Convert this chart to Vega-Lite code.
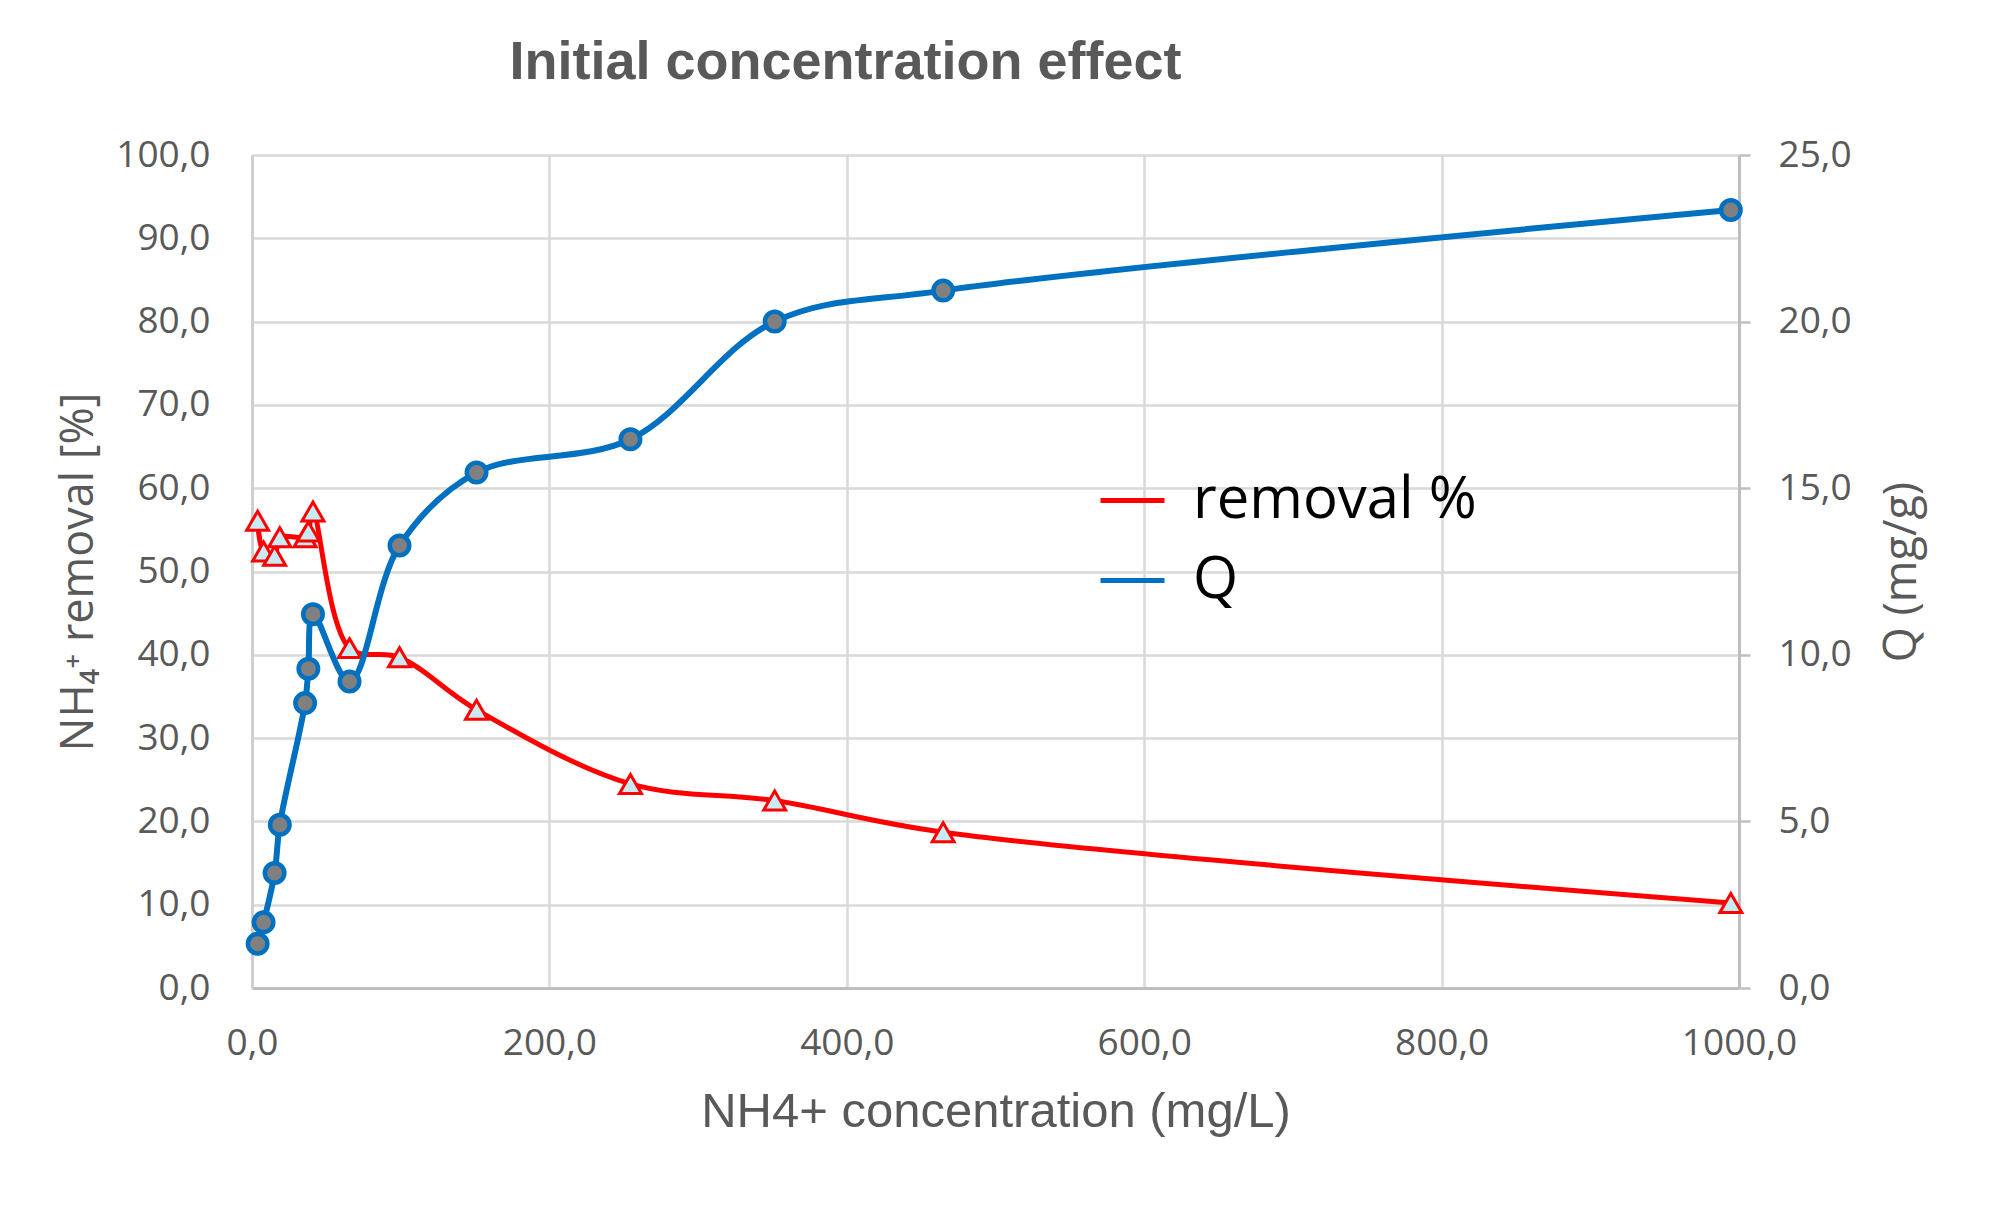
{
  "$schema": "https://vega.github.io/schema/vega-lite/v6.json",
  "width": 1487,
  "height": 833,
  "autosize": {"type": "none"},
  "padding": {"left": 252, "top": 155, "right": 250, "bottom": 220},
  "background": "white",
  "title": {
    "text": "Initial concentration effect",
    "font": "Liberation Sans",
    "fontSize": 54,
    "fontWeight": "bold",
    "color": "#595959",
    "anchor": "middle",
    "dx": -150,
    "offset": 3,
    "baseline": "alphabetic"
  },
  "data": {
    "values": [
      {"conc": 3.8, "removal": 56.1, "Q": 1.33},
      {"conc": 7.8, "removal": 52.4, "Q": 1.97},
      {"conc": 15.2, "removal": 51.9, "Q": 3.45},
      {"conc": 18.7, "removal": 54.1, "Q": 4.9},
      {"conc": 35.7, "removal": 54.1, "Q": 8.55},
      {"conc": 37.9, "removal": 54.8, "Q": 9.58},
      {"conc": 41.0, "removal": 57.2, "Q": 11.22},
      {"conc": 65.6, "removal": 40.8, "Q": 9.2},
      {"conc": 99.2, "removal": 39.7, "Q": 13.28},
      {"conc": 151.0, "removal": 33.4, "Q": 15.47},
      {"conc": 254.5, "removal": 24.5, "Q": 16.47},
      {"conc": 351.5, "removal": 22.5, "Q": 20.0},
      {"conc": 464.8, "removal": 18.7, "Q": 20.93},
      {"conc": 994.5, "removal": 10.2, "Q": 23.35}
    ]
  },
  "encoding": {
    "x": {
      "field": "conc",
      "type": "quantitative",
      "scale": {"domain": [0, 1000], "nice": false, "zero": false},
      "axis": {
        "orient": "bottom",
        "values": [0, 200, 400, 600, 800, 1000],
        "format": ".1f",
        "grid": true,
        "gridColor": "#d9d9d9",
        "gridWidth": 2.5,
        "domain": true,
        "domainColor": "#bfbfbf",
        "domainWidth": 3,
        "ticks": false,
        "labelFlush": false,
        "labelPadding": 37,
        "labelFont": "Open Sans",
        "labelFontSize": 37,
        "labelColor": "#595959",
        "title": "NH4+ concentration (mg/L)",
        "titleFont": "Liberation Sans",
        "titleFontSize": 49,
        "titleFontWeight": "normal",
        "titleColor": "#595959",
        "titlePadding": 26
      }
    }
  },
  "layer": [
    {
      "encoding": {
        "y": {
          "field": "removal",
          "type": "quantitative",
          "scale": {"domain": [0, 100], "nice": false},
          "axis": {
            "orient": "left",
            "values": [0, 10, 20, 30, 40, 50, 60, 70, 80, 90, 100],
            "format": ".1f",
            "grid": true,
            "gridColor": "#d9d9d9",
            "gridWidth": 2.5,
            "domain": true,
            "domainColor": "#cfcfcf",
            "domainWidth": 3,
            "ticks": false,
            "labelPadding": 42,
            "labelFont": "Open Sans",
            "labelFontSize": 37,
            "labelColor": "#595959",
            "title": "NH₄⁺ removal [%]",
            "titleFont": "Open Sans",
            "titleFontSize": 45,
            "titleFontWeight": "normal",
            "titleColor": "#595959",
            "titlePadding": 14
          }
        }
      },
      "layer": [
        {
          "mark": {"type": "line", "interpolate": "catmull-rom", "strokeWidth": 5, "color": "#ff0000"},
          "encoding": {
            "color": {
              "datum": "removal %",
              "type": "nominal",
              "scale": {"domain": ["removal %", "Q"], "range": ["#ff0000", "#0070c0"]},
              "legend": {
                "orient": "none",
                "legendX": 846,
                "legendY": 311,
                "title": null,
                "symbolType": "stroke",
                "symbolSize": 4096,
                "symbolStrokeWidth": 5,
                "labelFont": "Open Sans",
                "labelFontSize": 58,
                "labelColor": "black",
                "labelLimit": 600,
                "labelOffset": 26,
                "rowPadding": 16,
                "padding": 0
              }
            }
          }
        },
        {
          "mark": {"type": "point", "shape": "triangle-up", "size": 480, "filled": true, "fill": "#c8eaf2", "stroke": "#ff0000", "strokeWidth": 3, "opacity": 1},
          "encoding": {}
        }
      ]
    },
    {
      "encoding": {
        "y": {
          "field": "Q",
          "type": "quantitative",
          "scale": {"domain": [0, 25], "nice": false},
          "axis": {
            "orient": "right",
            "values": [0, 5, 10, 15, 20, 25],
            "format": ".1f",
            "grid": false,
            "domain": true,
            "domainColor": "#bfbfbf",
            "domainWidth": 3,
            "ticks": true,
            "tickColor": "#bfbfbf",
            "tickSize": 11,
            "tickWidth": 2.5,
            "labelPadding": 28,
            "labelFont": "Open Sans",
            "labelFontSize": 37,
            "labelColor": "#595959",
            "title": "Q (mg/g)",
            "titleFont": "Open Sans",
            "titleFontSize": 45,
            "titleFontWeight": "normal",
            "titleColor": "#595959",
            "titleAngle": 270,
            "titleBaseline": "top",
            "titlePadding": 28
          }
        }
      },
      "layer": [
        {
          "mark": {"type": "line", "interpolate": "catmull-rom", "strokeWidth": 6, "color": "#0070c0"},
          "encoding": {
            "color": {"datum": "Q", "type": "nominal"}
          }
        },
        {
          "mark": {"type": "point", "shape": "circle", "size": 380, "filled": true, "fill": "#808080", "stroke": "#0070c0", "strokeWidth": 4.5, "opacity": 1},
          "encoding": {}
        }
      ]
    }
  ],
  "resolve": {"scale": {"y": "independent"}},
  "config": {
    "locale": {"number": {"decimal": ",", "thousands": ".", "grouping": [3], "currency": ["", " €"]}},
    "view": {"stroke": null}
  }
}
